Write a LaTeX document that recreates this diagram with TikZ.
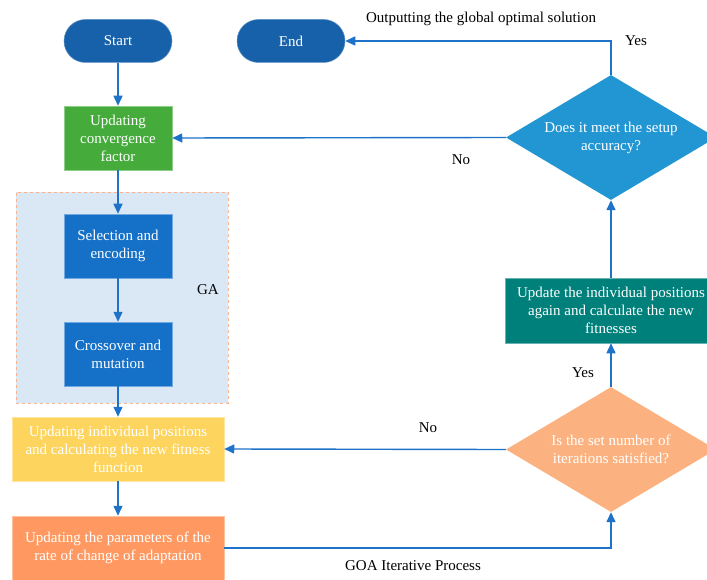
\documentclass[tikz,border=0pt]{standalone}
\usepackage{fontspec}
\setmainfont{Liberation Serif}
\usetikzlibrary{arrows.meta,shapes.geometric}

\definecolor{termblue}{HTML}{1761AA}
\definecolor{procgreen}{HTML}{45AC3C}
\definecolor{gablue}{HTML}{1570C8}
\definecolor{decblue}{HTML}{2196D3}
\definecolor{tealbox}{HTML}{00807A}
\definecolor{peach}{HTML}{FCB280}
\definecolor{sunyellow}{HTML}{FDD55E}
\definecolor{orangebox}{HTML}{FF9961}
\definecolor{gabg}{HTML}{DAE7F4}
\definecolor{gaedge}{HTML}{F8B48C}
\definecolor{flowline}{HTML}{1E73C8}

\tikzset{
  txt/.style={font=\fontsize{15}{18}\selectfont, align=center},
  terminal/.style={txt, rounded rectangle/.try, draw=#1!70!white, line width=0.5pt,
    fill=#1, text=white, minimum width=108pt, minimum height=43pt,
    rounded corners=21.5pt, inner sep=0pt},
  procbox/.style={txt, draw=#1!60!white, line width=0.5pt, fill=#1, text=white,
    minimum height=64pt, inner sep=0pt},
  decision/.style={txt, diamond, fill=#1, text=white, aspect=1.68,
    minimum width=210pt, minimum height=125pt, inner sep=0pt},
  flow/.style={draw=flowline, line width=1.4pt,
    -{Triangle[length=10pt,width=9pt]}},
  note/.style={txt, text=black}
}

\begin{document}
\begin{tikzpicture}[x=1pt,y=-1pt]
  \useasboundingbox (0,0) rectangle (707,580);
  \clip (0,0) rectangle (707,580);

  % GA container
  \node[draw=gaedge, dashed, line width=0.7pt, fill=gabg,
        minimum width=212pt, minimum height=211pt, inner sep=0pt] (ga) at (122,297.5) {};
  \node[note] (galabel) at (208,290) {GA};

  % left column
  \node[terminal=termblue] (start) at (118,41) {Start};
  \node[terminal=termblue] (end) at (291,41) {End};
  \node[procbox=procgreen, minimum width=108pt] (conv) at (118,138)
        {Updating\\convergence\\factor};
  \node[procbox=gablue, minimum width=108pt] (sel) at (118,246)
        {Selection and\\encoding};
  \node[procbox=gablue, minimum width=108pt] (cross) at (118,354)
        {Crossover and\\mutation};
  \node[procbox=sunyellow, minimum width=212pt] (upd) at (118,449)
        {Updating individual positions\\and calculating the new fitness\\function};
  \node[procbox=orangebox, minimum width=212pt] (rate) at (118,548)
        {Updating the parameters of the\\rate of change of adaptation};

  % right column
  \node[decision=decblue] (acc) at (611,137.5)
        {Does it meet the setup\\accuracy?};
  \node[procbox=tealbox, minimum width=212pt, minimum height=65pt] (again) at (611,310.5)
        {Update the individual positions\\again and calculate the new\\fitnesses};
  \node[decision=peach] (iter) at (611,449.5)
        {Is the set number of\\iterations satisfied?};

  % connectors
  \draw[flow] (start) -- (conv);
  \draw[flow] (conv) -- (sel);
  \draw[flow] (sel) -- (cross);
  \draw[flow] (cross) -- (upd);
  \draw[flow] (upd) -- (rate);
  \draw[flow] (rate.east) -| (iter.south);
  \draw[flow] (iter.north) -- (again.south);
  \draw[flow] (again.north) -- (acc.south);
  \draw[flow] (acc.north) |- (end.east);
  \draw[flow] (acc.west) -- (conv.east);
  \draw[flow] (iter.west) -- (upd.east);

  % labels
  \node[note] (outlabel) at (481,19) {Outputting the global optimal solution};
  \node[note] (yes1) at (636,41) {Yes};
  \node[note] (no1) at (461,160) {No};
  \node[note] (no2) at (428,428) {No};
  \node[note] (yes2) at (583,373) {Yes};
  \node[note] (goa) at (413,566) {GOA Iterative Process};
\end{tikzpicture}
\end{document}
